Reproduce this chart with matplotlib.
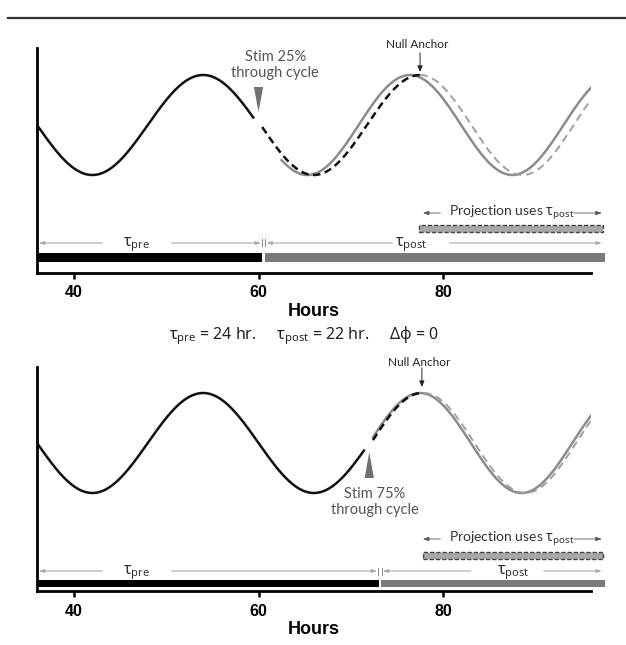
import numpy as np
import matplotlib
matplotlib.use('Agg')
import matplotlib.pyplot as plt
from matplotlib.lines import Line2D

plt.rcParams['mathtext.fontset'] = 'custom'
plt.rcParams['mathtext.rm'] = 'Noto Sans'
plt.rcParams['mathtext.it'] = 'Noto Sans:italic'

ANN = ['Lato', 'Noto Sans', 'DejaVu Sans']
TICKF = 'Liberation Sans'

# ---------------- data ----------------
tau_pre = 24.0            # hours, pre-stim period
pre_peak = 54.0           # peak time of pre-stim rhythm
hours_range = (36.0, 96.0)
bar_end = 97.5
xticks = [40, 60, 80]

stim_times = [60.0, 72.0]
stim_labels = ['Stim 25%\nthrough cycle', 'Stim 75%\nthrough cycle']
bar_split = [60.4, 73.0]
# black dashed (observed transient) : period, peak
dash_period = [23.0, 22.0]
dash_peak = [77.5, 77.7]
# grey solid (tau_post rhythm)
post_period = [22.2, 22.0]
post_peak = [76.4, 77.5]
post_start = [62.5, 72.4]
# grey dashed (projection from null anchor)
proj_period = [22.2, 22.0]
proj_peak = [77.5, 77.9]
summary = r'$\mathrm{\tau_{pre}}$ = 24 hr.     $\mathrm{\tau_{post}}$ = 22 hr.     Δφ = 0'

# ---------------- layout (pixels) ----------------
W, H = 626, 645
PXH = 9.23  # px per hour
panel_px = [  # axes top, axes bottom, wave midline
    (48, 273, 125),
    (367, 591, 443),
]
AMP = 50.0
bars_px = [(253, 262), (580, 587)]
dim_px = [243, 571]
rect_px = [(225, 232), (552, 559)]
projtxt_px = [212, 538]
tri_px = [(112, 87), (452, 478)]
stimtxt_px = [65, 502]
stimtxt_dx = [1.8, 0.6]
null_px = [(44, 53, 72), (362, 368, 387)]
tpost_label_t = [76.6, 87.6]
tpost_gap = [(74.5, 80.7), (83.0, 90.9)]

def wave(t, period, peak):
    return np.cos(2 * np.pi * (t - peak) / period)

fig = plt.figure(figsize=(W / 100, H / 100), dpi=100)
fig.add_artist(Line2D([8 / W, 1.0], [1 - 18 / H, 1 - 18 / H], color='#333333', lw=1.6))

x0 = 37
x1 = x0 + (hours_range[1] - hours_range[0]) * PXH

for i in range(2):
    top, bot, mid = panel_px[i]
    ax = fig.add_axes([x0 / W, 1 - bot / H, (x1 - x0) / W, (bot - top) / H])
    Y = lambda px: (mid - px) / AMP
    ax.set_xlim(*hours_range)
    ax.set_ylim(Y(bot), Y(top))
    for s in ['top', 'right']:
        ax.spines[s].set_visible(False)
    for s in ['left', 'bottom']:
        ax.spines[s].set_linewidth(2.0)
        ax.spines[s].set_color('black')
    ax.set_yticks([])
    ax.set_xticks(xticks)
    ax.tick_params(axis='x', length=4, width=1.8, pad=5, labelsize=11.5)
    for lab in ax.get_xticklabels():
        lab.set_fontfamily(TICKF)
        lab.set_fontweight('bold')
    ax.set_xlabel('Hours', fontfamily=TICKF, fontweight='bold', fontsize=13, labelpad=2)

    stim = stim_times[i]
    # pre-stim black rhythm
    t = np.linspace(hours_range[0], stim - 0.5, 300)
    ax.plot(t, wave(t, tau_pre, pre_peak), color='#111111', lw=1.8, solid_capstyle='butt')
    # grey solid tau_post rhythm
    t = np.linspace(post_start[i], hours_range[1], 300)
    ax.plot(t, wave(t, post_period[i], post_peak[i]), color='#8c8c8c', lw=1.8)
    # grey dashed projection
    t = np.linspace(proj_peak[i] - 0.0, hours_range[1], 300)
    ax.plot(t, wave(t, proj_period[i], proj_peak[i]), color='#a0a0a0', lw=1.4,
            dashes=(4, 2.5))
    # black dashed transient
    t = np.linspace(stim + 0.4, dash_peak[i], 200)
    ax.plot(t, wave(t, dash_period[i], dash_peak[i]), color='#111111', lw=1.8,
            dashes=(3, 1.8))

    # stim triangle
    tip, base = tri_px[i]
    ax.fill([stim - 0.5, stim + 0.5, stim], [Y(base), Y(base), Y(tip)],
            color='#707070', lw=0, clip_on=False)
    ax.text(stim + stimtxt_dx[i], Y(stimtxt_px[i]), stim_labels[i], ha='center', va='center',
            fontsize=10.5, family=ANN, color='#555555', linespacing=1.1)

    # null anchor
    ty, ay0, ay1 = null_px[i]
    ax.text(dash_peak[i] - 0.3, Y(ty), 'Null Anchor', ha='center', va='center',
            fontsize=8.5, family=ANN, color='#222222', clip_on=False)
    ax.annotate('', xy=(dash_peak[i], Y(ay1)), xytext=(dash_peak[i], Y(ay0)),
                arrowprops=dict(arrowstyle='-|>,head_length=0.35,head_width=0.15',
                                color='#222222', lw=0.7, shrinkA=0, shrinkB=0),
                annotation_clip=False)

    # bars
    b0, b1 = bars_px[i]
    yb = (Y(b0) + Y(b1)) / 2
    hb = Y(b0) - Y(b1)
    ax.barh(yb, bar_split[i] - hours_range[0], left=hours_range[0], height=hb,
            color='black', clip_on=False)
    ax.barh(yb, bar_end - bar_split[i] - 0.3, left=bar_split[i] + 0.3, height=hb,
            color='#7a7a7a', clip_on=False)

    # projection bar
    r0, r1 = rect_px[i]
    yr = (Y(r0) + Y(r1)) / 2
    hr = Y(r0) - Y(r1)
    ax.barh(yr, 97.3 - proj_peak[i] + 0.1, left=proj_peak[i] - 0.1, height=hr,
            color='#a8a8a8', edgecolor='#444444', lw=1.0, linestyle=(0, (3, 1.5)),
            clip_on=False)
    ax.text(87.4, Y(projtxt_px[i]), r'Projection uses $\mathrm{\tau_{post}}$', ha='center',
            va='center', fontsize=10, family=ANN, color='#333333')
    ap = dict(arrowstyle='-|>,head_length=0.35,head_width=0.12', color='#555555', lw=0.6,
              shrinkA=0, shrinkB=0)
    yt = Y(projtxt_px[i] + 1)
    ax.annotate('', xy=(77.8, yt), xytext=(79.7, yt), arrowprops=ap, annotation_clip=False)
    ax.annotate('', xy=(97.2, yt), xytext=(94.2, yt), arrowprops=ap, annotation_clip=False)

    # dimension arrows
    yd = Y(dim_px[i])
    apd = dict(arrowstyle='-|>,head_length=0.3,head_width=0.1', color='#aaaaaa', lw=0.8,
               shrinkA=0, shrinkB=0)
    ax.annotate('', xy=(36.2, yd), xytext=(43.1, yd), arrowprops=apd, annotation_clip=False)
    ax.annotate('', xy=(bar_split[i] - 0.15, yd), xytext=(50.6, yd), arrowprops=apd,
                annotation_clip=False)
    ax.text(46.8, yd - 0.07, r'$\mathrm{\tau_{pre}}$', ha='center', va='baseline',
            fontsize=11.5, color='#333333')
    ax.annotate('', xy=(bar_split[i] + 0.45, yd), xytext=(tpost_gap[i][0], yd), arrowprops=apd,
                annotation_clip=False)
    ax.annotate('', xy=(97.2, yd), xytext=(tpost_gap[i][1], yd), arrowprops=apd,
                annotation_clip=False)
    ax.text(tpost_label_t[i], yd - 0.07, r'$\mathrm{\tau_{post}}$', ha='center', va='baseline',
            fontsize=11.5, color='#333333')
    for xv in (bar_split[i] - 0.05, bar_split[i] + 0.35):
        ax.plot([xv, xv], [yd - 0.07, yd + 0.07], color='#888888', lw=0.7, clip_on=False)

fig.text(304 / W, 1 - 336 / H, summary, ha='center', va='center', fontsize=11.5,
         color='#222222', family=['Noto Sans', 'DejaVu Sans'])

fig.savefig('out.png', dpi=100)
